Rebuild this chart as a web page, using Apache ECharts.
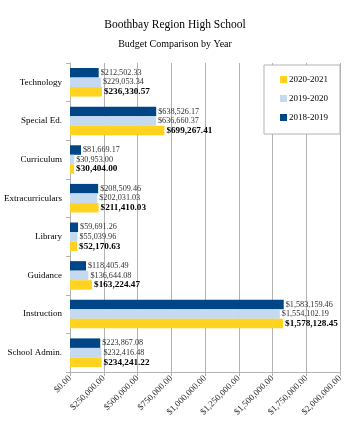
<!DOCTYPE html>
<html>
<head>
<meta charset="utf-8">
<script src="https://cdn.jsdelivr.net/npm/echarts@6/dist/echarts.min.js"></script>
<style>
  html, body { margin: 0; padding: 0; background: #fff; }
  #chart { width: 350px; height: 430px; }
</style>
</head>
<body>
<div id="chart"></div>
<script>
// categories bottom -> top (category axis starts at the bottom)
const categories = ["School Admin.", "Instruction", "Guidance", "Library", "Extracurriculars", "Curriculum", "Special Ed.", "Technology"];
const years = ["2020-2021", "2019-2020", "2018-2019"];
const budget2021 = [234241.22, 1578128.45, 163224.47, 52170.63, 211410.03, 30404.00, 699267.41, 236330.57];
const budget2020 = [232416.48, 1554102.19, 136644.08, 55039.96, 202031.03, 30953.00, 636660.37, 229053.34];
const budget2019 = [223867.08, 1583159.46, 118405.49, 59691.26, 208509.46, 81669.17, 638526.17, 212502.33];
const colors = ["#ffd320", "#c5d9f1", "#004586"];

function money(v) {
  return "$" + v.toLocaleString("en-US", { minimumFractionDigits: 2, maximumFractionDigits: 2 });
}

const font = "'Liberation Serif', 'DejaVu Serif', serif";

const chart = echarts.init(document.getElementById("chart"));
const makeSeries = (name, data, color, bold) => ({
  name: name,
  type: "bar",
  data: data,
  barGap: "0%",
  barCategoryGap: "26%",
  itemStyle: { color: color },
  label: {
    show: true,
    position: "right",
    distance: 2,
    formatter: (p) => money(p.value),
    fontFamily: font,
    fontSize: bold ? 9.2 : 8.2,
    fontWeight: bold ? "bold" : "normal",
    color: bold ? "#000" : "#333",
  },
});

chart.setOption({
  animation: false,
  textStyle: { fontFamily: font },
  title: {
    text: "Boothbay Region High School",
    subtext: "Budget Comparison by Year",
    left: "center",
    top: 14,
    itemGap: 8,
    textStyle: { fontFamily: font, fontSize: 11.5, fontWeight: "normal", color: "#000" },
    subtextStyle: { fontFamily: font, fontSize: 10, color: "#000" },
  },
  legend: {
    data: years,
    orient: "vertical",
    right: 10,
    top: 65,
    padding: [10, 12, 12, 16],
    itemGap: 10,
    itemWidth: 7,
    itemHeight: 7,
    icon: "rect",
    backgroundColor: "#fff",
    borderColor: "#b3b3b3",
    borderWidth: 1,
    textStyle: { fontFamily: font, fontSize: 9, color: "#000", padding: [0, 0, 0, -3] },
  },
  grid: { left: 70, right: 10, top: 63, bottom: 58 },
  xAxis: {
    type: "value",
    min: 0,
    max: 2000000,
    interval: 250000,
    axisLine: { show: true, lineStyle: { color: "#b3b3b3" } },
    axisTick: { show: true, length: 4, lineStyle: { color: "#b3b3b3" } },
    splitLine: { show: true, lineStyle: { color: "#b3b3b3" } },
    axisLabel: {
      rotate: 45,
      formatter: money,
      fontFamily: font,
      fontSize: 9,
      color: "#333",
      margin: 5,
    },
  },
  yAxis: {
    type: "category",
    data: categories,
    axisLine: { show: true, lineStyle: { color: "#b3b3b3" } },
    axisTick: { show: true, length: 4, lineStyle: { color: "#b3b3b3" } },
    axisLabel: { fontFamily: font, fontSize: 9, color: "#000", margin: 8 },
  },
  // first series is drawn at the top of each band
  series: [
    makeSeries(years[2], budget2019, colors[2], false),
    makeSeries(years[1], budget2020, colors[1], false),
    makeSeries(years[0], budget2021, colors[0], true),
  ],
});
</script>
</body>
</html>
